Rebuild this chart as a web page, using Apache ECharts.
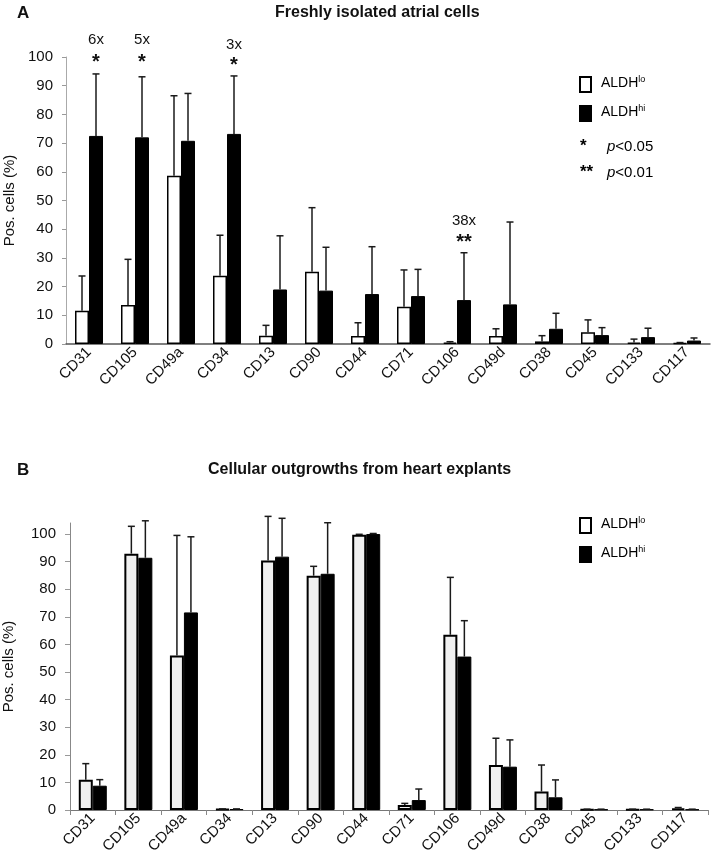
<!DOCTYPE html>
<html>
<head>
<meta charset="utf-8">
<script src="https://cdn.jsdelivr.net/npm/echarts@6/dist/echarts.min.js"></script>
<style>
html,body{margin:0;padding:0;background:#fff;}
#chart{width:714px;height:860px;}
</style>
</head>
<body>
<div id="chart"></div>
<script>
const categories = ['CD31','CD105','CD49a','CD34','CD13','CD90','CD44','CD71','CD106','CD49d','CD38','CD45','CD133','CD117'];

// Panel A: freshly isolated atrial cells (mean % and SD)
const freshLo   = [11.6, 13.6, 58.6, 23.8, 2.9, 25.2, 2.8, 13.0, 0.5, 2.8, 0.9, 4.1, 0.5, 0.3];
const freshLoSD = [12.1, 15.9, 27.9, 14.1, 3.6, 22.3, 4.6, 12.8, 0.3, 2.5, 2.0, 4.3, 1.2, 0.2];
const freshHi   = [72.5, 72.0, 70.8, 73.2, 19.0, 18.6, 17.4, 16.7, 15.3, 13.8, 5.3, 3.1, 2.4, 1.2];
const freshHiSD = [21.6, 21.1, 16.5, 20.2, 18.7, 15.1, 16.5, 9.3, 16.5, 28.7, 5.4, 2.6, 3.1, 0.9];

// Panel B: cellular outgrowths from heart explants
const outLo   = [11.0, 92.9, 56.0, 0.3, 90.4, 84.9, 99.7, 1.8, 63.5, 16.3, 6.7, 0.2, 0.2, 0.6];
const outLoSD = [5.8, 9.9, 43.5, 0.1, 16.0, 3.4, 0.2, 0.6, 20.8, 9.7, 9.6, 0.1, 0.1, 0.3];
const outHi   = [8.8, 91.4, 71.6, 0.3, 91.8, 85.6, 100.0, 3.6, 55.6, 15.7, 4.6, 0.2, 0.2, 0.2];
const outHiSD = [2.2, 13.4, 27.4, 0.1, 13.9, 18.5, 0.2, 4.0, 13.0, 9.7, 6.3, 0.1, 0.1, 0.1];

// Significance annotations (panel A)
const annotCats  = ['CD31', 'CD105', 'CD34', 'CD106'];
const annotFold  = ['6x', '5x', '3x', '38x'];
const annotFoldY = [106, 106, 104.3, 43];
const annotStars = ['*', '*', '*', '**'];
const annotStarY = [98.2, 98.2, 97.2, 35.5];

const yTicksA = {min: 0, max: 100, interval: 10};
const yTicksB = {min: 0, max: 104, interval: 10};

const FONT = 'Liberation Sans, Arial, sans-serif';
const BARW = 14;

function errRender(offset) {
  return function (params, api) {
    const i = api.value(0), m = api.value(1), s = api.value(2);
    const p0 = api.coord([i, m]);
    const p1 = api.coord([i, m + s]);
    const x = p0[0] + offset;
    return {
      type: 'group',
      children: [
        {type: 'line', shape: {x1: x, y1: p0[1], x2: x, y2: p1[1]}, style: {stroke: '#1a1a1a', lineWidth: 1.5}},
        {type: 'line', shape: {x1: x - 3.5, y1: p1[1], x2: x + 3.5, y2: p1[1]}, style: {stroke: '#1a1a1a', lineWidth: 1.5}}
      ]
    };
  };
}
function errData(vals, sds) { return vals.map((v, i) => [i, v, sds[i]]); }

function textRender(texts, size, bold) {
  return function (params, api) {
    const p = api.coord([api.value(0), api.value(1)]);
    return {
      type: 'text', x: p[0] + BARW / 2, y: p[1],
      style: {text: texts[params.dataIndex], fontSize: size, fontWeight: bold ? 'bold' : 'normal',
              fill: '#111', align: 'center', verticalAlign: 'middle', fontFamily: FONT}
    };
  };
}

const chart = echarts.init(document.getElementById('chart'), null, {renderer: 'canvas'});

const xAxisCommon = {
  type: 'category',
  data: categories,
  axisLabel: {rotate: 45, fontSize: 15, color: '#111', fontFamily: FONT, interval: 0, margin: 6},
  splitLine: {show: false}
};

const legendRich = {
  m: {fontSize: 14, fontFamily: FONT, color: '#111', lineHeight: 16},
  s: {fontSize: 9, fontFamily: FONT, color: '#111', verticalAlign: 'top', lineHeight: 16, padding: [0, 0, 6, 0]}
};

function legendGroup(x, y, loFill, withP) {
  const els = [
    {type: 'rect', left: x, top: y, shape: {width: 11, height: 15}, style: {fill: loFill, stroke: '#000', lineWidth: 2}},
    {type: 'text', left: x + 22, top: y - 1, style: {text: '{m|ALDH}{s|lo}', rich: legendRich}},
    {type: 'rect', left: x, top: y + 29, shape: {width: 11, height: 15}, style: {fill: '#000', stroke: '#000', lineWidth: 2}},
    {type: 'text', left: x + 22, top: y + 28, style: {text: '{m|ALDH}{s|hi}', rich: legendRich}}
  ];
  if (withP) {
    els.push({type: 'text', left: x + 1, top: y + 62, style: {text: '{a|*}', rich: {a: {fontSize: 17, fontWeight: 'bold', fontFamily: FONT, color: '#111'}}}});
    els.push({type: 'text', left: x + 28, top: y + 63, style: {text: '{p|p}{t|<0.05}', rich: {p: {fontSize: 15, fontStyle: 'italic', fontFamily: FONT, color: '#111'}, t: {fontSize: 15, fontFamily: FONT, color: '#111'}}}});
    els.push({type: 'text', left: x + 1, top: y + 88, style: {text: '{a|**}', rich: {a: {fontSize: 17, fontWeight: 'bold', fontFamily: FONT, color: '#111'}}}});
    els.push({type: 'text', left: x + 28, top: y + 89, style: {text: '{p|p}{t|<0.01}', rich: {p: {fontSize: 15, fontStyle: 'italic', fontFamily: FONT, color: '#111'}, t: {fontSize: 15, fontFamily: FONT, color: '#111'}}}});
  }
  return els;
}

const option = {
  backgroundColor: '#fff',
  animation: false,
  textStyle: {fontFamily: FONT},
  title: [
    {text: 'A', left: 12, top: 0, textStyle: {fontSize: 17, fontWeight: 'bold', color: '#111', fontFamily: FONT}},
    {text: 'Freshly isolated atrial cells', left: 270, top: 0, textStyle: {fontSize: 16, fontWeight: 'bold', color: '#111', fontFamily: FONT}},
    {text: 'B', left: 12, top: 457, textStyle: {fontSize: 17, fontWeight: 'bold', color: '#111', fontFamily: FONT}},
    {text: 'Cellular outgrowths from heart explants', left: 203, top: 457, textStyle: {fontSize: 16, fontWeight: 'bold', color: '#111', fontFamily: FONT}}
  ],
  grid: [
    {left: 66, right: 4, top: 57, height: 287, containLabel: false, outerBoundsMode: 'none'},
    {left: 70, right: 6, top: 523, height: 287, containLabel: false, outerBoundsMode: 'none'}
  ],
  xAxis: [
    Object.assign({}, xAxisCommon, {gridIndex: 0, axisLine: {lineStyle: {color: '#555', width: 1.5}}, axisTick: {show: false}}),
    Object.assign({}, xAxisCommon, {gridIndex: 1, axisLine: {lineStyle: {color: '#777', width: 1}}, axisTick: {show: true, alignWithLabel: false, interval: 0, length: 5, lineStyle: {color: '#888'}}})
  ],
  yAxis: [
    {type: 'value', gridIndex: 0, min: yTicksA.min, max: yTicksA.max, interval: yTicksA.interval,
     name: 'Pos. cells (%)', nameLocation: 'middle', nameGap: 48, nameTextStyle: {fontSize: 15, color: '#111', fontFamily: FONT},
     axisLine: {show: true, lineStyle: {color: '#aaa'}}, axisTick: {show: true, length: 4, lineStyle: {color: '#999'}},
     axisLabel: {fontSize: 15, color: '#111', fontFamily: FONT, margin: 13}, splitLine: {show: false}},
    {type: 'value', gridIndex: 1, min: yTicksB.min, max: yTicksB.max, interval: yTicksB.interval,
     name: 'Pos. cells (%)', nameLocation: 'middle', nameGap: 54, nameTextStyle: {fontSize: 15, color: '#111', fontFamily: FONT},
     axisLine: {show: true, lineStyle: {color: '#888'}}, axisTick: {show: true, length: 5, lineStyle: {color: '#999'}},
     axisLabel: {fontSize: 15, color: '#111', fontFamily: FONT, margin: 14, showMaxLabel: false}, splitLine: {show: false}}
  ],
  series: [
    {name: 'ALDHlo A', type: 'bar', xAxisIndex: 0, yAxisIndex: 0, data: freshLo, barWidth: BARW, barGap: '0%',
     itemStyle: {color: '#fff', borderColor: '#000', borderWidth: 1.5}},
    {name: 'ALDHhi A', type: 'bar', xAxisIndex: 0, yAxisIndex: 0, data: freshHi, barWidth: BARW, barGap: '0%',
     itemStyle: {color: '#000', borderColor: '#000', borderWidth: 1}},
    {type: 'custom', xAxisIndex: 0, yAxisIndex: 0, renderItem: errRender(-BARW / 2), data: errData(freshLo, freshLoSD), z: 5, clip: false},
    {type: 'custom', xAxisIndex: 0, yAxisIndex: 0, renderItem: errRender(BARW / 2), data: errData(freshHi, freshHiSD), z: 5, clip: false},
    {type: 'custom', xAxisIndex: 0, yAxisIndex: 0, z: 6, clip: false, renderItem: textRender(annotFold, 15, false),
     data: annotCats.map((c, i) => [categories.indexOf(c), annotFoldY[i]])},
    {type: 'custom', xAxisIndex: 0, yAxisIndex: 0, z: 6, clip: false, renderItem: textRender(annotStars, 20, true),
     data: annotCats.map((c, i) => [categories.indexOf(c), annotStarY[i]])},

    {name: 'ALDHlo B', type: 'bar', xAxisIndex: 1, yAxisIndex: 1, data: outLo, barWidth: BARW, barGap: '0%',
     itemStyle: {color: '#f0f0f0', borderColor: '#000', borderWidth: 2}},
    {name: 'ALDHhi B', type: 'bar', xAxisIndex: 1, yAxisIndex: 1, data: outHi, barWidth: BARW, barGap: '0%',
     itemStyle: {color: '#000', borderColor: '#000', borderWidth: 1}},
    {type: 'custom', xAxisIndex: 1, yAxisIndex: 1, renderItem: errRender(-BARW / 2), data: errData(outLo, outLoSD), z: 5, clip: false},
    {type: 'custom', xAxisIndex: 1, yAxisIndex: 1, renderItem: errRender(BARW / 2), data: errData(outHi, outHiSD), z: 5, clip: false}
  ],
  graphic: legendGroup(579, 76, '#fff', true).concat(legendGroup(579, 517, '#fff', false))
};

chart.setOption(option);
</script>
</body>
</html>
